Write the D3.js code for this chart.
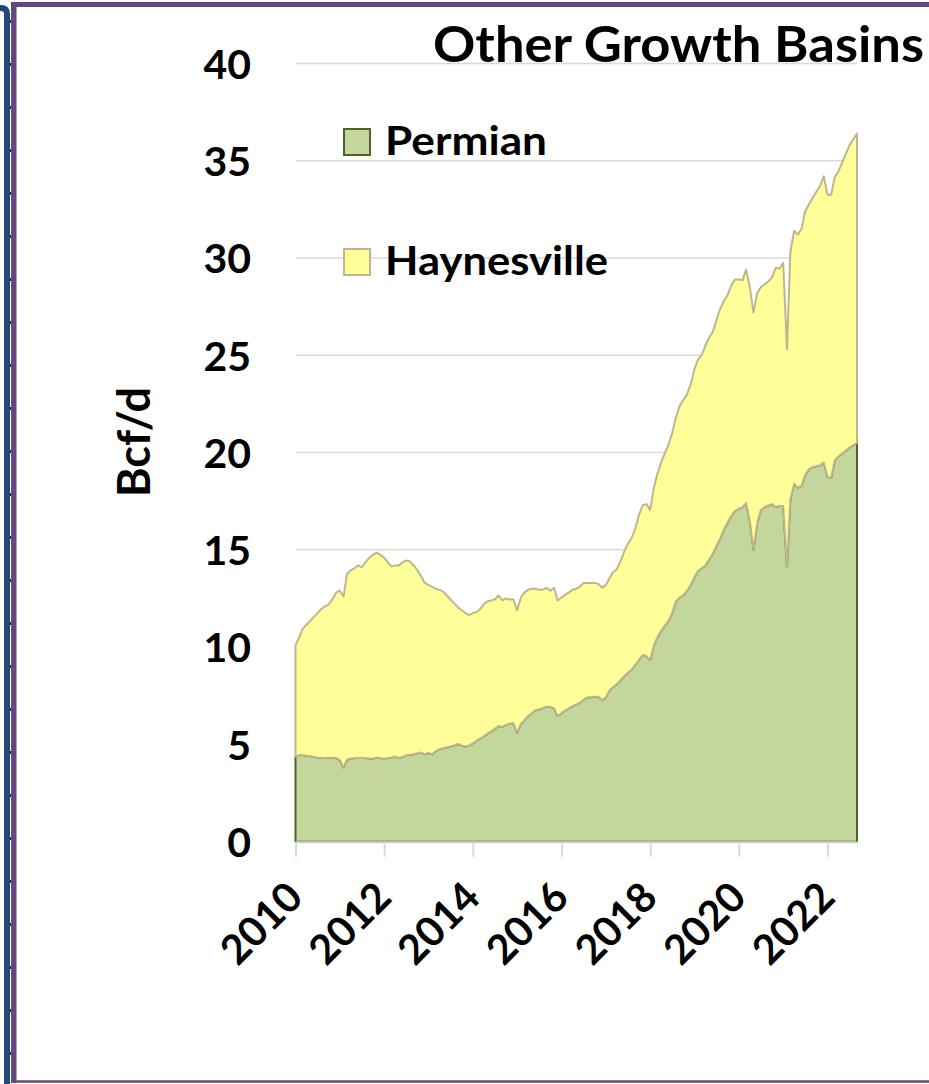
<!DOCTYPE html>
<html>
<head>
<meta charset="utf-8">
<script src="https://cdnjs.cloudflare.com/ajax/libs/d3/7.8.5/d3.min.js"></script>
<style>
  html, body { margin: 0; padding: 0; background: #fff; }
  svg { display: block; }
  text { font-family: Lato, "Open Sans", sans-serif; font-weight: bold; fill: #000; }
</style>
</head>
<body>
<script>
'use strict';

// monthly series, Jan 2010 .. Sep 2022 (Bcf/d)
const startMonth = new Date(2010, 0, 1);

const permian = [
  4.37, 4.45, 4.45, 4.42, 4.40, 4.36, 4.33, 4.32, 4.30, 4.31, 4.32, 4.30,
  4.20, 3.82, 4.22, 4.26, 4.30, 4.30, 4.30, 4.30, 4.28, 4.28, 4.32, 4.30,
  4.27, 4.30, 4.33, 4.38, 4.30, 4.36, 4.44, 4.47, 4.50, 4.55, 4.58, 4.50,
  4.56, 4.50, 4.65, 4.75, 4.80, 4.85, 4.90, 4.95, 5.02, 4.95, 4.88, 4.95,
  5.05, 5.20, 5.30, 5.42, 5.55, 5.67, 5.80, 5.95, 5.90, 6.00, 6.08, 6.10,
  5.60, 6.05, 6.25, 6.46, 6.60, 6.77, 6.80, 6.87, 6.94, 6.94, 6.85, 6.46,
  6.60, 6.75, 6.85, 6.97, 7.05, 7.14, 7.30, 7.42, 7.43, 7.45, 7.45, 7.28,
  7.42, 7.80, 7.95, 8.10, 8.30, 8.50, 8.68, 8.85, 9.10, 9.35, 9.60, 9.55,
  9.34, 10.10, 10.50, 10.85, 11.10, 11.35, 11.75, 12.35, 12.55, 12.68, 12.90, 13.20,
  13.60, 13.95, 14.05, 14.20, 14.50, 14.80, 15.20, 15.60, 16.05, 16.40, 16.75, 17.00,
  17.10, 17.20, 17.40, 16.50, 15.00, 16.40, 17.05, 17.20, 17.28, 17.35, 17.20, 17.25,
  17.25, 14.13, 17.60, 18.40, 18.20, 18.30, 18.85, 19.15, 19.25, 19.30, 19.35, 19.50,
  18.75, 18.72, 19.60, 19.80, 19.95, 20.10, 20.25, 20.38, 20.50
];

const haynesville = [
  5.73, 6.05, 6.50, 6.73, 6.95, 7.19, 7.42, 7.63, 7.80, 7.89, 8.13, 8.50,
  8.70, 8.78, 9.53, 9.69, 9.75, 9.90, 9.80, 10.05, 10.32, 10.47, 10.53, 10.45,
  10.33, 10.05, 9.82, 9.82, 9.90, 9.99, 10.01, 9.93, 9.70, 9.40, 9.07, 8.80,
  8.64, 8.60, 8.35, 8.20, 8.05, 7.80, 7.55, 7.30, 7.03, 6.95, 6.87, 6.70,
  6.70, 6.60, 6.65, 6.78, 6.80, 6.73, 6.65, 6.70, 6.50, 6.50, 6.37, 6.35,
  6.30, 6.50, 6.55, 6.49, 6.40, 6.23, 6.15, 6.08, 6.11, 5.96, 6.20, 5.94,
  5.95, 5.95, 5.95, 5.98, 5.95, 5.96, 6.00, 5.88, 5.87, 5.85, 5.80, 5.77,
  5.78, 5.75, 5.90, 5.90, 6.10, 6.40, 6.62, 6.75, 7.00, 7.45, 7.70, 7.80,
  7.71, 8.10, 8.40, 8.65, 8.85, 9.05, 9.25, 9.45, 9.85, 10.02, 10.10, 10.30,
  10.70, 10.85, 10.95, 11.30, 11.40, 11.40, 11.60, 11.80, 11.75, 11.70, 11.85, 11.90,
  11.80, 11.65, 12.00, 12.00, 12.20, 11.80, 11.45, 11.45, 11.52, 11.65, 12.30, 12.20,
  12.50, 11.17, 12.70, 13.00, 13.00, 13.20, 13.55, 13.60, 13.85, 14.10, 14.35, 14.70,
  14.50, 14.53, 14.55, 14.65, 14.95, 15.25, 15.55, 15.72, 15.90
];

const seriesNames = ['Permian', 'Haynesville'];
const seriesFill = ['#C3D69B', '#FFFF99'];
const seriesStroke = ['#4F6228', '#BFB58F'];
const legendWidth = [162, 223]; // rendered width of the legend labels

const yTicks = [0, 5, 10, 15, 20, 25, 30, 35, 40];
const xTickYears = [2010, 2012, 2014, 2016, 2018, 2020, 2022];

const W = 929, H = 1084;

const svg = d3.select('body').append('svg')
  .attr('width', W)
  .attr('height', H);

// frame: blue strip on the far left, purple box
svg.append('path')
  .attr('d', 'M-20,8 L1,8 Q7,8 7,14 L7,' + (H + 5))
  .attr('fill', 'none')
  .attr('stroke', '#1F497D')
  .attr('stroke-width', 6);
svg.append('line')
  .attr('x1', 10.5).attr('x2', 10.5)
  .attr('y1', 20).attr('y2', H)
  .attr('stroke', '#222')
  .attr('stroke-width', 1)
  .attr('stroke-dasharray', '3,40');
svg.append('line')
  .attr('x1', 11).attr('x2', W + 5)
  .attr('y1', 4.5).attr('y2', 4.5)
  .attr('stroke', '#604A7B').attr('stroke-width', 5);
svg.append('line')
  .attr('x1', 13.8).attr('x2', 13.8)
  .attr('y1', 2).attr('y2', 1083)
  .attr('stroke', '#604A7B').attr('stroke-width', 5.5);
svg.append('line')
  .attr('x1', 11).attr('x2', W + 5)
  .attr('y1', 1081.5).attr('y2', 1081.5)
  .attr('stroke', '#604A7B').attr('stroke-width', 2.5);

// scales
const months = permian.map((v, i) => d3.timeMonth.offset(startMonth, i));
const x = d3.scaleTime()
  .domain([months[0], months[months.length - 1]])
  .range([295.5, 857]);
const y = d3.scaleLinear()
  .domain([0, 40])
  .range([841.7, 63.4]);

// gridlines
svg.append('g')
  .selectAll('line')
  .data(yTicks.filter((d) => d > 0))
  .enter()
  .append('line')
  .attr('x1', 296)
  .attr('x2', x.range()[1])
  .attr('y1', (d) => y(d))
  .attr('y2', (d) => y(d))
  .attr('stroke', '#D9D9D9')
  .attr('stroke-width', 1.5);

// stacked areas
const table = months.map((m, i) => ({
  date: m,
  Permian: permian[i],
  Haynesville: haynesville[i]
}));
const stacked = d3.stack().keys(seriesNames)(table);

const area = d3.area()
  .x((d) => x(d.data.date))
  .y0((d) => y(d[0]))
  .y1((d) => y(d[1]));

svg.append('g')
  .selectAll('path')
  .data(stacked)
  .enter()
  .append('path')
  .attr('d', (s) => area(s) + 'Z')
  .attr('fill', (s, i) => seriesFill[i])
  .attr('stroke', (s, i) => seriesStroke[i])
  .attr('stroke-width', 2)
  .attr('stroke-linejoin', 'round');

// x axis
const xAxis = d3.axisBottom(x)
  .tickValues(xTickYears.map((yr) => new Date(yr, 0, 1)))
  .tickFormat(d3.timeFormat('%Y'))
  .tickSizeInner(15)
  .tickSizeOuter(0);

const gx = svg.append('g')
  .attr('transform', 'translate(0,' + y(0) + ')')
  .call(xAxis);
gx.select('.domain')
  .attr('stroke', '#D0D0D0')
  .attr('stroke-width', 2);
gx.selectAll('.tick line')
  .attr('stroke', '#D9D9D9')
  .attr('stroke-width', 2);
gx.selectAll('.tick text')
  .style('font-size', '41px')
  .style('font-family', 'Lato')
  .style('font-weight', 'bold')
  .attr('fill', '#000')
  .style('text-anchor', 'end')
  .attr('x', 9)
  .attr('y', 58)
  .attr('dy', 0)
  .attr('transform', 'rotate(-45, 9, 58)');

// y axis labels
const gy = svg.append('g')
  .attr('transform', 'translate(251,0)')
  .call(d3.axisLeft(y).tickValues(yTicks).tickSize(0).tickPadding(0));
gy.select('.domain').remove();
gy.selectAll('.tick text')
  .style('font-size', '41px')
  .style('font-family', 'Lato')
  .style('font-weight', 'bold')
  .attr('fill', '#000')
  .attr('dy', '0.36em');

svg.append('text')
  .attr('transform', 'translate(150,442) rotate(-90)')
  .style('text-anchor', 'middle')
  .style('font-size', '45px')
  .text('Bcf/d');

// title
svg.append('text')
  .attr('x', 433)
  .attr('y', 62)
  .style('font-size', '50px')
  .attr('textLength', 491)
  .attr('lengthAdjust', 'spacingAndGlyphs')
  .text('Other Growth Basins');

// legend
const legend = svg.selectAll('.legend')
  .data(seriesNames)
  .enter()
  .append('g')
  .attr('class', 'legend')
  .attr('transform', (d, i) => 'translate(0,' + i * 120 + ')');
legend.append('rect')
  .attr('x', 344)
  .attr('y', 129)
  .attr('width', 26)
  .attr('height', 26)
  .attr('fill', (d, i) => seriesFill[i])
  .attr('stroke', (d, i) => seriesStroke[i])
  .attr('stroke-width', 2);
legend.append('text')
  .attr('x', 385)
  .attr('y', 155)
  .style('font-size', '40px')
  .attr('textLength', (d, i) => legendWidth[i])
  .attr('lengthAdjust', 'spacingAndGlyphs')
  .text((d) => d);
</script>
</body>
</html>
